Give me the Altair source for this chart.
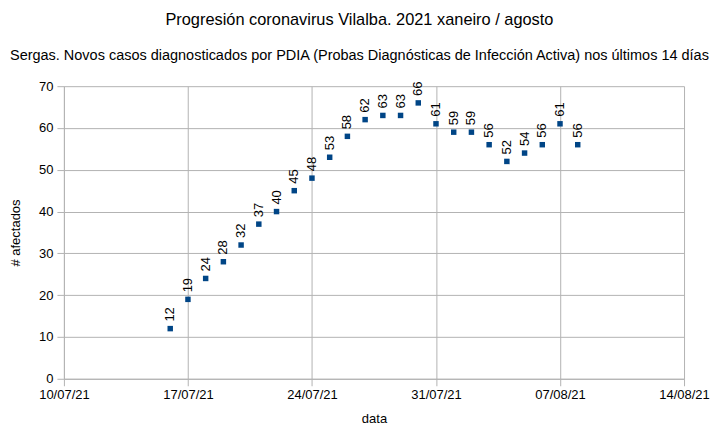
import altair as alt
import pandas as pd

dates = ["2021-07-16", "2021-07-17", "2021-07-18", "2021-07-19", "2021-07-20",
         "2021-07-21", "2021-07-22", "2021-07-23", "2021-07-24", "2021-07-25",
         "2021-07-26", "2021-07-27", "2021-07-28", "2021-07-29", "2021-07-30",
         "2021-07-31", "2021-08-01", "2021-08-02", "2021-08-03", "2021-08-04",
         "2021-08-05", "2021-08-06", "2021-08-07", "2021-08-08"]
values = [12, 19, 24, 28, 32, 37, 40, 45, 48, 53, 58, 62, 63, 63, 66,
          61, 59, 59, 56, 52, 54, 56, 61, 56]
tick_dates = [(2021, 7, 10), (2021, 7, 17), (2021, 7, 24), (2021, 7, 31),
              (2021, 8, 7), (2021, 8, 14)]
y_ticks = [0, 10, 20, 30, 40, 50, 60, 70]

df = pd.DataFrame({"data": [d + "T00:00:00" for d in dates], "afectados": values})

FONT = "Liberation Sans"
GRID = "#b3b3b3"

tick_vals = [alt.DateTime(year=y, month=m, date=d) for (y, m, d) in tick_dates]

x = alt.X("data:T",
          scale=alt.Scale(domain=[tick_vals[0], tick_vals[-1]]),
          axis=alt.Axis(values=tick_vals, format="%d/%m/%y", title="data",
                        grid=True, gridColor=GRID, domainColor=GRID,
                        tickColor=GRID, tickSize=7, labelPadding=3,
                        titlePadding=11, labelFontSize=13, titleFontSize=13,
                        titleFontWeight="normal", labelColor="black",
                        titleColor="black", labelFont=FONT, titleFont=FONT,
                        labelFlush=False))
y = alt.Y("afectados:Q",
          scale=alt.Scale(domain=[0, 70]),
          axis=alt.Axis(values=y_ticks, title="# afectados", grid=True,
                        gridColor=GRID, domainColor=GRID, tickColor=GRID,
                        tickSize=7, labelPadding=4, titlePadding=16,
                        labelFontSize=13, titleFontSize=13,
                        titleFontWeight="normal", labelColor="black",
                        titleColor="black", labelFont=FONT, titleFont=FONT))

base = alt.Chart(df).encode(x=x, y=y)
points = base.mark_square(size=30, color="#004586", opacity=1)
labels = base.mark_text(angle=270, align="left", baseline="middle", dx=7,
                        fontSize=13, font=FONT, color="black").encode(
    text="afectados:Q")

chart = (points + labels).properties(
    width=621, height=293,
    title=alt.TitleParams(
        text="Progresión coronavirus Vilalba. 2021 xaneiro / agosto",
        subtitle="Sergas. Novos casos diagnosticados por PDIA (Probas Diagnósticas de Infección Activa) nos últimos 14 días",
        fontSize=16.4, subtitleFontSize=14.5, font=FONT, subtitleFont=FONT,
        fontWeight="normal", color="black", subtitleColor="black",
        anchor="middle", frame="bounds", offset=18, subtitlePadding=20),
    autosize=alt.AutoSizeParams(type="none"),
    padding={"left": 56, "top": 78, "right": 26, "bottom": 46},
).configure_view(stroke=None)

chart.save("out.html", embed_options={"renderer": "svg", "actions": False})
